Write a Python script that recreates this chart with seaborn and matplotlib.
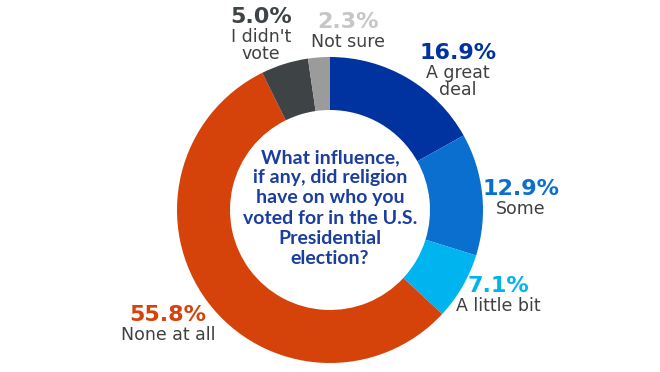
import matplotlib
matplotlib.use("Agg")
import matplotlib.pyplot as plt
import seaborn as sns

# ── data ────────────────────────────────────────────────────────────────
categories = ["A great deal", "Some", "A little bit", "None at all", "I didn't vote", "Not sure"]
label_text = ["A great\ndeal", "Some", "A little bit", "None at all", "I didn't\nvote", "Not sure"]
shares = [16.9, 12.9, 7.1, 55.8, 5.0, 2.3]

QUESTION = ("What influence,\nif any, did religion\nhave on who you\n"
            "voted for in the U.S.\nPresidential\nelection?")

# ── style ───────────────────────────────────────────────────────────────
wedge_colors = ["#0033a0", "#0a6fcf", "#00b4ef", "#d5430b", "#3e4446", "#9b9b9b"]
pct_colors   = ["#0033a0", "#0a6fcf", "#00b4ef", "#d5430b", "#3e4446", "#c6c6c6"]
# label anchors in pixel space (x, y of the percentage line)
label_pos = [(458, 53), (521, 189), (498, 286), (168, 315), (261, 17), (348, 22)]

sns.set_theme(style="white")
plt.rcParams["font.family"] = ["DejaVu Sans"]

W, H = 660, 372
CX, CY, R = 330, 210, 153

fig = plt.figure(figsize=(W / 100, H / 100), dpi=100)
ax = fig.add_axes([0, 0, 1, 1])

# y axis runs downwards, so counterclock=True draws clockwise on screen
ax.pie(shares, radius=R, center=(CX, CY), startangle=-90, counterclock=True,
       colors=wedge_colors, wedgeprops=dict(width=53, linewidth=0))

ax.set_xlim(0, W)
ax.set_ylim(H, 0)
ax.set_aspect("equal")
ax.axis("off")

for (x, y), pct, txt, c in zip(label_pos, shares, label_text, pct_colors):
    ax.text(x, y, f"{pct:.1f}%", ha="center", va="center", fontsize=16,
            fontweight="bold", color=c)
    ax.text(x, y + 11, txt, ha="center", va="top", fontsize=12.5,
            color="#404040", linespacing=0.95)

ax.text(CX, 208, QUESTION, ha="center", va="center", fontsize=14,
        fontweight="bold", color="#1b3e9e", linespacing=1.22, family="Lato")

fig.savefig("out.png", dpi=100)
plt.close(fig)
